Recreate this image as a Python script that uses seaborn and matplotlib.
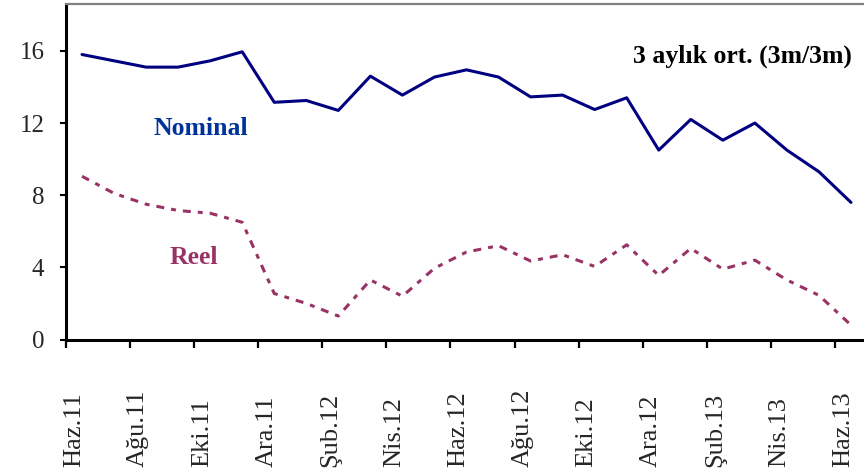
import numpy as np
import pandas as pd
import matplotlib
matplotlib.use('Agg')
import matplotlib.pyplot as plt
import matplotlib.transforms as mtransforms
import seaborn as sns

# Veriler (3 aylık ortalama, aylık)
aylar = ['Haz.11', 'Tem.11', 'Ağu.11', 'Eyl.11', 'Eki.11', 'Kas.11', 'Ara.11',
         'Oca.12', 'Şub.12', 'Mar.12', 'Nis.12', 'May.12', 'Haz.12', 'Tem.12',
         'Ağu.12', 'Eyl.12', 'Eki.12', 'Kas.12', 'Ara.12', 'Oca.13', 'Şub.13',
         'Mar.13', 'Nis.13', 'May.13', 'Haz.13']
nominal = [15.8, 15.45, 15.1, 15.1, 15.45, 15.95, 13.15, 13.25, 12.7, 14.6, 13.55, 14.55, 14.95,
           14.55, 13.45, 13.55, 12.75, 13.4, 10.5, 12.2, 11.05, 12.0, 10.5, 9.3, 7.6]
reel = [9.05, 8.1, 7.5, 7.15, 7.0, 6.5, 2.55, 2.0, 1.3, 3.3, 2.4, 3.95, 4.85,
        5.2, 4.35, 4.7, 4.05, 5.25, 3.55, 5.05, 3.9, 4.4, 3.3, 2.45, 0.8]
y_ticks = [0, 4, 8, 12, 16]

df = pd.DataFrame({'idx': np.arange(len(aylar)), 'ay': aylar,
                   'Nominal': nominal, 'Reel': reel})

sns.set_style('white')
plt.rcParams['font.family'] = ['Liberation Serif', 'DejaVu Serif']

fig = plt.figure(figsize=(8.64, 4.73), dpi=100)
ax = fig.add_axes([66 / 864, 1 - 339.5 / 473, (867 - 66) / 864, (339.5 - 4) / 473])

sns.lineplot(data=df, x='idx', y='Nominal', ax=ax, color='#000080', linewidth=2.2)
sns.lineplot(data=df, x='idx', y='Reel', ax=ax, color='#993366', linewidth=2.2,
             linestyle=(0, (2.6, 2.3, 1.6, 2.3)))

ax.set_xlim(-0.5, 24.5)
ax.set_ylim(0, 18.6)
ax.set_xlabel('')
ax.set_ylabel('')

# eksenler
for s in ['left', 'bottom']:
    ax.spines[s].set_color('black')
    ax.spines[s].set_linewidth(2.2)
ax.spines['top'].set_color('#808080')
ax.spines['top'].set_linewidth(1.6)
ax.spines['right'].set_visible(False)

ax.set_yticks(y_ticks)
ax.set_yticklabels([str(v) for v in y_ticks])
ax.tick_params(axis='y', direction='out', length=4.5, width=1.5, pad=11, labelsize=18,
               left=True, color='black')

# x ekseni: etiketler iki ayda bir, çizgiler kategoriler arasında
ax.set_xticks(df['idx'][::2])
ax.set_xticklabels(df['ay'][::2], rotation=90, va='bottom', ha='center')
ax.set_xticks(np.arange(-0.5, 24, 2), minor=True)
ax.tick_params(axis='x', which='major', length=0, pad=92, labelsize=19, bottom=True)
ax.tick_params(axis='x', which='minor', direction='out', length=5.5, width=1.6,
               bottom=True, color='black')
offset = mtransforms.ScaledTranslation(-8 / 100, 0, fig.dpi_scale_trans)
for lab in ax.get_xticklabels():
    lab.set_transform(lab.get_transform() + offset)

# metinler
ax.text(3.72, 11.33, 'Nominal', color='#003399', fontsize=18.5, fontweight='bold',
        ha='center', va='baseline')
ax.text(3.49, 4.17, 'Reel', color='#993366', fontsize=18.5, fontweight='bold',
        ha='center', va='baseline')
ax.text(24.03, 15.33, '3 aylık ort. (3m/3m)', color='black', fontsize=18.5,
        fontweight='bold', ha='right', va='baseline')

plt.savefig('out.png', dpi=100)
